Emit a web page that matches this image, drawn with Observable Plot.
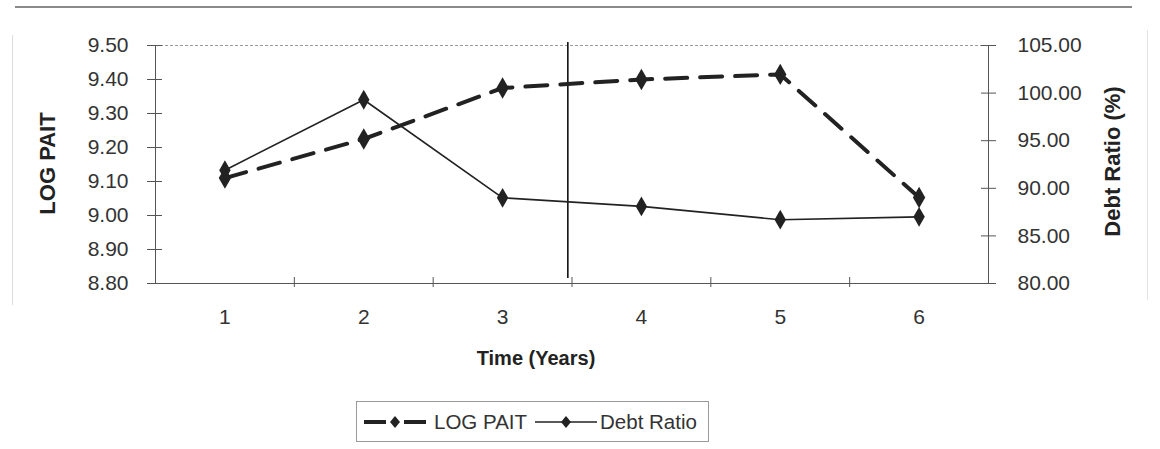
<!DOCTYPE html>
<html>
<head>
<meta charset="utf-8">
<script src="https://cdn.jsdelivr.net/npm/d3@7"></script>
<script src="https://cdn.jsdelivr.net/npm/@observablehq/plot@0.6"></script>
<style>
  html, body { margin: 0; padding: 0; background: #fff; }
  #wrap { position: relative; width: 1160px; height: 449px; overflow: hidden; font-family: "Liberation Sans", Arial, sans-serif; }
  #chart svg { display: block; }
  .deco { position: absolute; }
  #legend { position: absolute; left: 356px; top: 401px; width: 353px; height: 41px; border: 1px solid #9a9a9a; box-sizing: border-box;
            display: flex; align-items: center; font-size: 20.5px; color: #333; white-space: nowrap; }
  #legend svg { display: block; }
</style>
</head>
<body>
<div id="wrap">
  <div class="deco" style="left:15px; top:6px; width:1117px; border-top:2px solid #8a8a8a;"></div>
  <div class="deco" style="left:12px; top:35px; height:270px; border-left:1px solid #dcdcdc;"></div>
  <div class="deco" style="left:1147px; top:30px; height:270px; border-left:1px solid #e2e2e2;"></div>
  <div id="chart"></div>
  <div id="legend"></div>
</div>
<script>
// ---- data ----
const years = [1, 2, 3, 4, 5, 6];
const logPait = [9.11, 9.225, 9.375, 9.40, 9.415, 9.053];
const debtRatio = [91.9, 99.3, 89.0, 88.1, 86.7, 87.0];
const leftTicks = [8.8, 8.9, 9.0, 9.1, 9.2, 9.3, 9.4, 9.5];
const rightTicks = [80, 85, 90, 95, 100, 105];
const xDomain = [0.5, 6.5];
const categoryBoundaries = [1.5, 2.5, 3.5, 4.5, 5.5];
const breakYear = [3.47];
const leftDomain = [8.8, 9.5];
const rightDomain = [80, 105];
const seriesNames = ["LOG PAIT", "Debt Ratio"];

// map right-axis values onto the left scale
const toLeft = v => leftDomain[0] + (v - rightDomain[0]) * (leftDomain[1] - leftDomain[0]) / (rightDomain[1] - rightDomain[0]);
const fromLeft = y => rightDomain[0] + (y - leftDomain[0]) * (rightDomain[1] - rightDomain[0]) / (leftDomain[1] - leftDomain[0]);

const paitData = years.map((t, i) => ({t, v: logPait[i]}));
const debtData = years.map((t, i) => ({t, v: toLeft(debtRatio[i])}));

const ink = "#222";
const axisInk = "#555";
const font = "Liberation Sans, Arial, sans-serif";

const chart = Plot.plot({
  width: 1160,
  height: 395,
  marginLeft: 155,
  marginRight: 172,
  marginTop: 45,
  marginBottom: 112,
  style: {fontFamily: font, fontSize: "21px", color: "#333", background: "#fff"},
  x: {type: "linear", domain: xDomain},
  y: {domain: leftDomain},
  marks: [
    // frame pieces
    Plot.ruleY([leftDomain[1]], {stroke: "#9a9a9a", strokeDasharray: "3,2", strokeWidth: 1}),
    Plot.ruleY([leftDomain[0]], {stroke: axisInk, strokeWidth: 1.2}),
    Plot.ruleX([xDomain[0]], {stroke: axisInk, strokeWidth: 1}),
    Plot.ruleX([xDomain[1]], {stroke: axisInk, strokeWidth: 1}),
    // break line
    Plot.ruleX(breakYear, {stroke: "#111", strokeWidth: 1.6, insetTop: -3, insetBottom: 5}),
    // left axis
    Plot.axisY(leftTicks, {anchor: "left", tickSize: 0, tickPadding: 27, tickFormat: d => d.toFixed(2), label: null, fontSize: 21, fill: "#333"}),
    Plot.axisY(leftTicks, {anchor: "left", tickSize: 15, dx: 7, tickFormat: () => "", label: null, stroke: axisInk}),
    // right axis
    Plot.axisY(rightTicks.map(toLeft), {anchor: "right", tickSize: 0, tickPadding: 29, tickFormat: d => fromLeft(d).toFixed(2), label: null, fontSize: 21, fill: "#333"}),
    Plot.axisY(rightTicks.map(toLeft), {anchor: "right", tickSize: 15, dx: -8, tickFormat: () => "", label: null, stroke: axisInk}),
    // x axis
    Plot.axisX(years, {tickSize: 0, tickPadding: 26, tickFormat: d => String(d), label: null, fontSize: 21, fill: "#333"}),
    Plot.ruleX(categoryBoundaries, {y1: leftDomain[0], y2: leftDomain[0], insetTop: -6, insetBottom: -4, stroke: axisInk, strokeWidth: 1}),
    // axis titles
    Plot.text(["Time (Years)"], {frameAnchor: "bottom", textAnchor: "middle", dx: -36, dy: 75, lineAnchor: "middle", fontWeight: "bold", fontSize: 20, fill: "#222"}),
    Plot.text(["LOG PAIT"], {frameAnchor: "left", textAnchor: "middle", lineAnchor: "middle", dx: -108, dy: -1, rotate: -90, fontWeight: "bold", fontSize: 22, fill: "#222"}),
    Plot.text(["Debt Ratio (%)"], {frameAnchor: "right", textAnchor: "middle", lineAnchor: "middle", dx: 124, dy: -3, rotate: -90, fontWeight: "bold", fontSize: 22, fill: "#222"}),
    // series
    Plot.line(debtData, {x: "t", y: "v", stroke: ink, strokeWidth: 1.6}),
    Plot.dot(debtData, {x: "t", y: "v", symbol: "diamond", r: 6, fill: ink, stroke: "none"}),
    Plot.line(paitData, {x: "t", y: "v", stroke: ink, strokeWidth: 4, strokeDasharray: "22,13"}),
    Plot.dot(paitData, {x: "t", y: "v", symbol: "diamond", r: 6.5, fill: ink, stroke: "none"})
  ]
});
document.getElementById("chart").appendChild(chart);

// legend
function sample(dashed) {
  const w = 62, h = 20, cy = h / 2;
  const dash = dashed
    ? `<line x1="0" y1="${cy}" x2="22" y2="${cy}" stroke="${ink}" stroke-width="4"/><line x1="40" y1="${cy}" x2="${w}" y2="${cy}" stroke="${ink}" stroke-width="4"/>`
    : `<line x1="0" y1="${cy}" x2="${w}" y2="${cy}" stroke="${ink}" stroke-width="1.6"/>`;
  const d = `M${w/2},${cy-6}L${w/2+5},${cy}L${w/2},${cy+6}L${w/2-5},${cy}Z`;
  return `<svg width="${w}" height="${h}">${dash}<path d="${d}" fill="${ink}"/></svg>`;
}
document.getElementById("legend").innerHTML =
  `<span style="margin-left:7px">${sample(true)}</span><span style="margin-left:8px">${seriesNames[0]}</span>` +
  `<span style="margin-left:8px">${sample(false)}</span><span style="margin-left:3px">${seriesNames[1]}</span>`;
</script>
</body>
</html>
